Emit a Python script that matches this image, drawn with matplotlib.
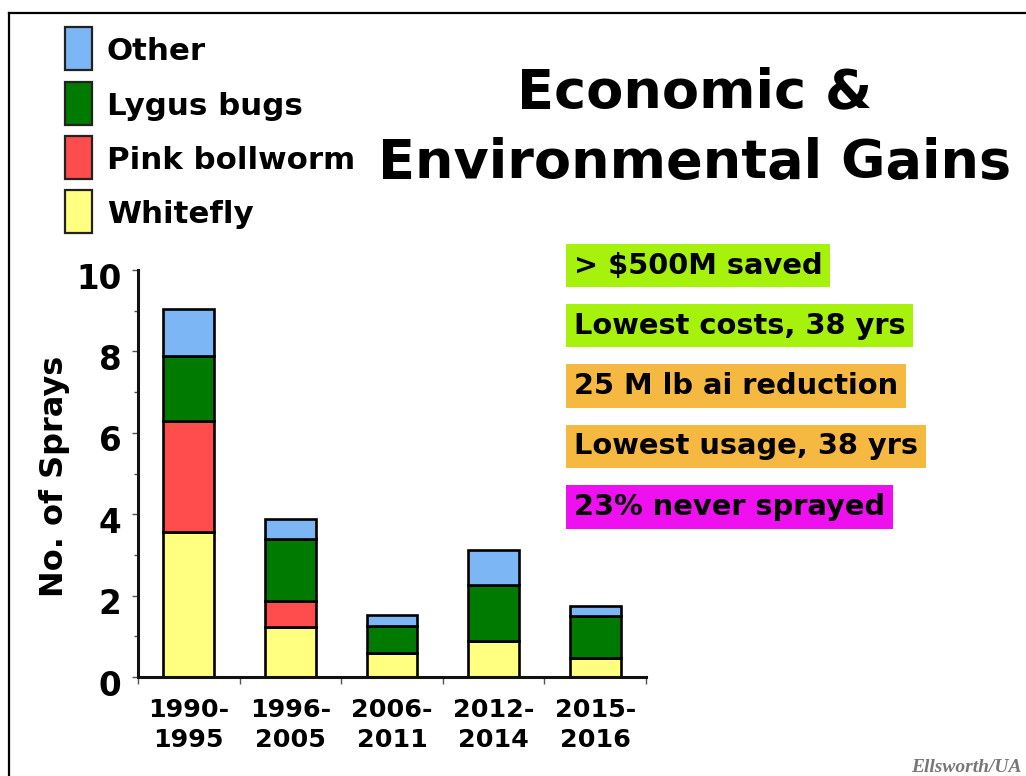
import matplotlib
matplotlib.use("Agg")
import matplotlib.pyplot as plt
import numpy as np
from matplotlib.patches import Rectangle
from matplotlib.lines import Line2D
from matplotlib.transforms import ScaledTranslation

# ---------------- data ----------------
periods = ["1990-\n1995", "1996-\n2005", "2006-\n2011", "2012-\n2014", "2015-\n2016"]
whitefly = [3.57, 1.23, 0.59, 0.88, 0.47]
pink_bollworm = [2.73, 0.64, 0.0, 0.0, 0.0]
lygus_bugs = [1.59, 1.53, 0.66, 1.39, 1.02]
other = [1.15, 0.47, 0.27, 0.86, 0.25]

series_labels = ["Whitefly", "Pink bollworm", "Lygus bugs", "Other"]
series_colors = ["#ffff80", "#ff4d4d", "#007a00", "#7db6f5"]

y_ticks = [0, 2, 4, 6, 8, 10]
y_minor = [1, 3, 5, 7, 9]

notes = ["> $500M saved", "Lowest costs, 38 yrs", "25 M lb ai reduction",
         "Lowest usage, 38 yrs", "23% never sprayed"]
note_colors = ["#a6f20c", "#a6f20c", "#f5b942", "#f5b942", "#ee10ee"]

title_lines = ["Economic &", "Environmental Gains"]
y_label = "No. of Sprays"
credit = "Ellsworth/UA"

# ---------------- figure ----------------
plt.rcParams["font.family"] = ["DejaVu Sans"]
plt.rcParams["font.weight"] = "bold"

W, H = 1026, 776
fig = plt.figure(figsize=(W / 100, H / 100), dpi=100)
fig.patch.set_facecolor("white")


def fx(px):
    return px / W


def fy(py):
    return 1 - py / H


ax = fig.add_axes([fx(138), fy(677), fx(646) - fx(138), fy(270) - fy(677)])

x = np.arange(len(periods))
stack = [whitefly, pink_bollworm, lygus_bugs, other]
bottom = np.zeros(len(periods))
for vals, col, lab in zip(stack, series_colors, series_labels):
    v = np.array(vals, dtype=float)
    ax.bar(x, v, width=0.5, bottom=bottom, color=col, edgecolor="black",
           linewidth=1.9, label=lab, zorder=3)
    bottom += v

ax.set_xlim(-0.5, len(periods) - 0.5)
ax.set_ylim(0, 10)

for s in ["top", "right"]:
    ax.spines[s].set_visible(False)
for s in ["left", "bottom"]:
    ax.spines[s].set_linewidth(2.2)
    ax.spines[s].set_color("#111111")
    ax.spines[s].set_zorder(4)

ax.set_yticks(y_ticks)
ax.set_yticks(y_minor, minor=True)
ax.set_yticklabels([str(t) for t in y_ticks], fontsize=23.5, fontweight="bold")
ax.tick_params(axis="y", which="major", length=4, width=1, color="#555555", pad=8)
ax.tick_params(axis="y", which="minor", length=3, width=1, color="#555555")

ax.set_xticks(x)
ax.set_xticklabels(periods, fontsize=18.3, fontweight="bold", linespacing=1.35)
ax.set_xticks(np.arange(len(periods) + 1) - 0.5, minor=True)
ax.tick_params(axis="x", which="major", length=0, pad=15)
ax.tick_params(axis="x", which="minor", length=5, width=1, color="#555555")

for lbl in ax.get_yticklabels():
    lbl.set_transform(lbl.get_transform() + ScaledTranslation(0, -4 / 72, fig.dpi_scale_trans))

# y label
fig.text(fx(55), fy(476), y_label, rotation=90, ha="center", va="center",
         fontsize=23, fontweight="bold")

# title
fig.text(fx(695), fy(107), title_lines[0], ha="center", va="baseline",
         fontsize=39, fontweight="bold")
fig.text(fx(695), fy(178), title_lines[1], ha="center", va="baseline",
         fontsize=39, fontweight="bold")

# legend (top to bottom: Other, Lygus, Pink, Whitefly)
leg_tops = [27, 82, 136, 190]
for i, (lab, col) in enumerate(zip(series_labels[::-1], series_colors[::-1])):
    top = leg_tops[i]
    fig.add_artist(Rectangle((fx(65), fy(top + 43)), fx(27), 43 / H,
                             facecolor=col, edgecolor="#222222", linewidth=1.6,
                             transform=fig.transFigure))
    fig.text(fx(107), fy(top + 21.5 + 11.5), lab, ha="left", va="baseline",
             fontsize=22.2, fontweight="bold")

# note boxes
note_centers = [265.5, 325.5, 386, 446.5, 507]
for txt, col, cy in zip(notes, note_colors, note_centers):
    fig.text(fx(574), fy(cy), txt, ha="left", va="center", fontsize=20.8,
             fontweight="bold",
             bbox=dict(boxstyle="square,pad=0.26", facecolor=col, edgecolor="none"))

# frame lines
fig.add_artist(Line2D([fx(8.5), fx(1026)], [fy(13), fy(13)], color="black",
                      linewidth=1.6, transform=fig.transFigure))
fig.add_artist(Line2D([fx(8.5), fx(8.5)], [fy(13), fy(776)], color="black",
                      linewidth=1.6, transform=fig.transFigure))

# credit
fig.text(fx(1022), fy(759), credit, ha="right", va="top", fontsize=14,
         family="Liberation Serif", style="italic", fontweight="bold",
         color="#777777")

fig.savefig("out.png", dpi=100)
